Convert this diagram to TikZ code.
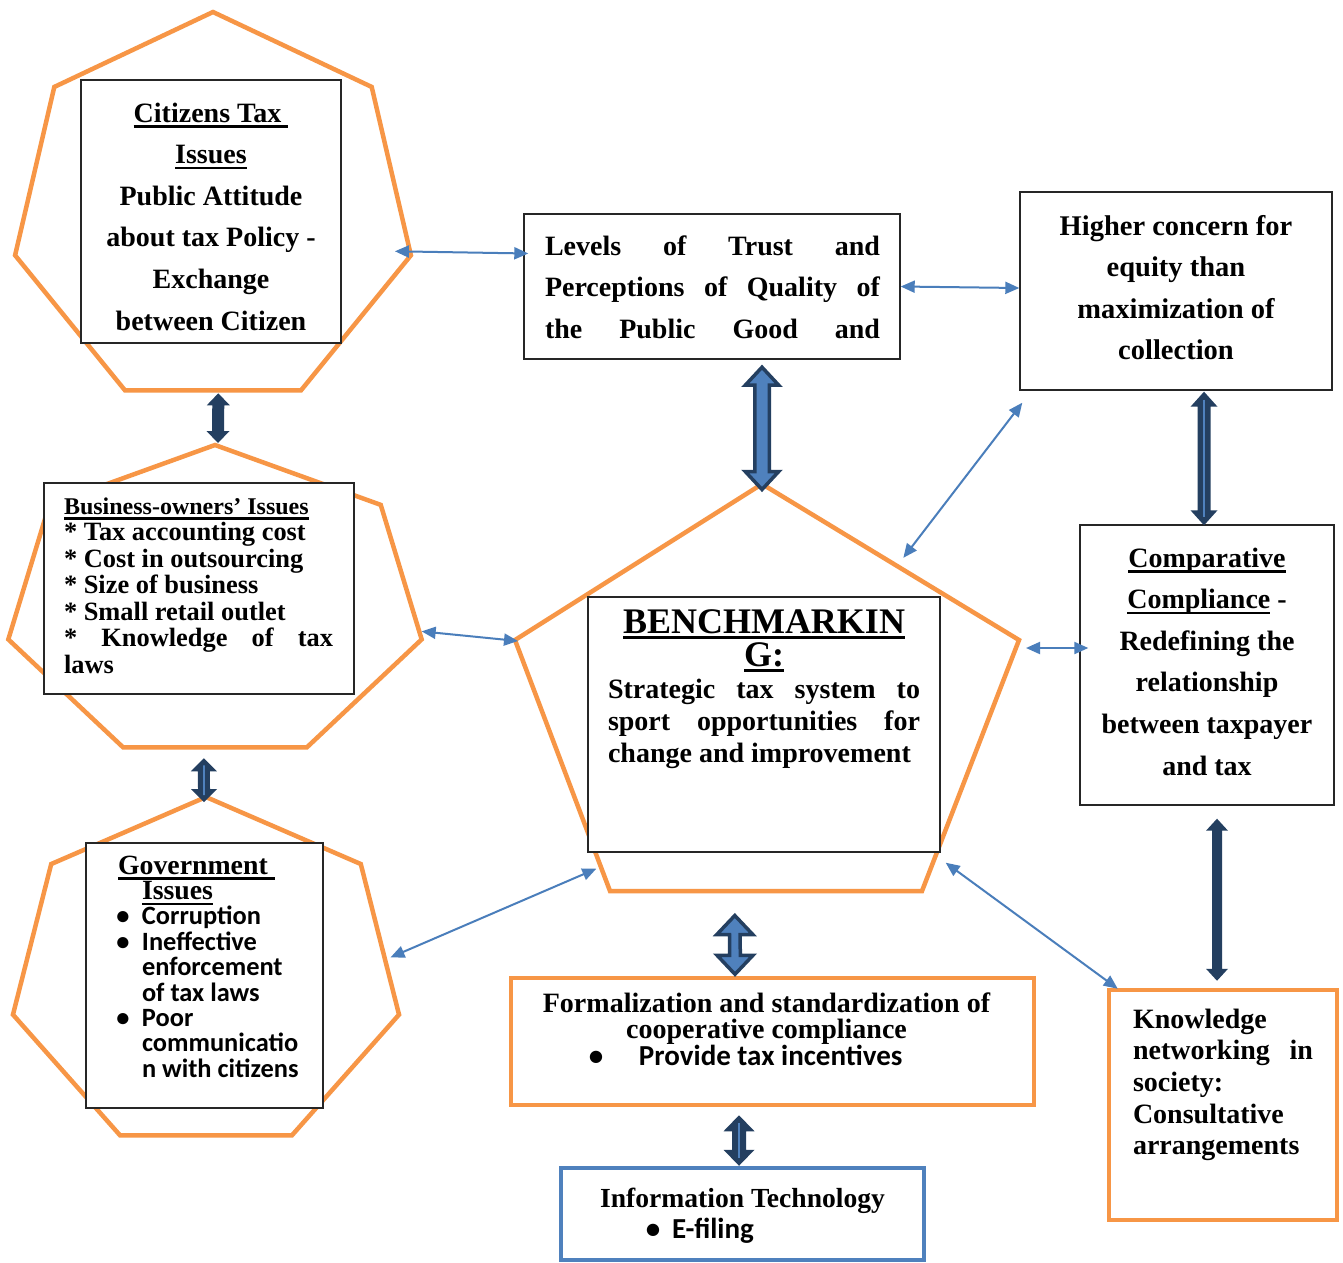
\documentclass[tikz,border=0pt]{standalone}
\usepackage{fontspec}
\setmainfont{Liberation Serif}
\newfontfamily\carl{Carlito}
\usetikzlibrary{calc,arrows.meta}
\definecolor{orng}{HTML}{F79646}
\definecolor{lblue}{HTML}{4F81BD}
\definecolor{cblue}{HTML}{4A7EBB}
\definecolor{navy}{HTML}{243F60}
\newsavebox\ulbox
\newcommand\uln[1]{\leavevmode\sbox\ulbox{#1}\rlap{\rule[-5.5pt]{\wd\ulbox}{2.2pt}}\usebox\ulbox}
\newcommand\fs[2]{\fontsize{#1pt}{#2pt}\selectfont}
\newcommand\bx[5]{\parbox[t][#2pt][t]{#1pt}{\lineskiplimit=-100pt #4\rule{0pt}{#3pt}#5}}
\newcommand\gb{\makebox[10pt][c]{•}\hspace*{14pt}}
\newcommand\cbf{\carl\fontsize{26.4pt}{25.4pt}\selectfont}
\newcommand\dblock[6]{\path[#1] (#2) -- ($(#2)+(#4,#6)$) -- ($(#2)+(#5,#6)$) -- ($(#3)+(#5,-#6)$) -- ($(#3)+(#4,-#6)$) -- (#3) -- ($(#3)+(-#4,-#6)$) -- ($(#3)+(-#5,-#6)$) -- ($(#2)+(-#5,#6)$) -- ($(#2)+(-#4,#6)$) -- cycle;}
\newcommand\dline[3]{\draw[lblue, line width=1.6pt] ($(#1)+(0,#3)$) -- ($(#2)+(0,-#3)$);}
\tikzset{
  hept/.style={draw=orng, line width=4.5pt, line join=miter},
  bbox/.style={draw=black!85, line width=1.4pt, fill=white, inner sep=0pt, font=\bfseries},
  obox/.style={bbox, draw=orng, line width=4.5pt},
  ibox/.style={bbox, draw=lblue, line width=4.5pt},
  conn/.style={draw=cblue, line width=2pt, {Triangle[length=14pt,width=12pt]}-{Triangle[length=14pt,width=12pt]}},
  blkA/.style={draw=navy, line width=3.5pt, fill=lblue, line join=miter},
  blkB/.style={fill=navy}
}
\begin{document}
\begin{tikzpicture}[x=1pt,y=-1pt]
\fill[white] (0,0) rectangle (1343,1262);
\useasboundingbox (0,0) rectangle (1343,1262);
% heptagons
\foreach \i in {0,...,6}{
  \coordinate (h1-\i) at ({213+203*cos(90+\i*360/7)},{211-199*sin(90+\i*360/7)});
  \coordinate (h2-\i) at ({215+212*cos(90+\i*360/7)},{604-159*sin(90+\i*360/7)});
  \coordinate (h3-\i) at ({206+198*cos(90+\i*360/7)},{975-178*sin(90+\i*360/7)});
}
\draw[hept] (h1-0)--(h1-1)--(h1-2)--(h1-3)--(h1-4)--(h1-5)--(h1-6)--cycle;
\draw[hept] (h2-0)--(h2-1)--(h2-2)--(h2-3)--(h2-4)--(h2-5)--(h2-6)--cycle;
\draw[hept] (h3-0)--(h3-1)--(h3-2)--(h3-3)--(h3-4)--(h3-5)--(h3-6)--cycle;
% pentagon
\coordinate (pT) at (762,484);
\coordinate (pR) at (1019,640);
\coordinate (pBR) at (922,891);
\coordinate (pBL) at (610,891);
\coordinate (pL) at (515,640);
\draw[hept] (pT)--(pR)--(pBR)--(pBL)--(pL)--cycle;
% boxes
\node[bbox] (c1) at (211,211.5) {\bx{260}{263}{42}{\fs{28}{41.6}\centering}{\uln{Citizens Tax\ }\\\uln{Issues}\\Public Attitude\\about tax Policy -\\Exchange\\between Citizen}};
\node[bbox] (lv) at (712,286.5) {\bx{376}{145}{41}{\fs{28}{41.5}\raggedright}{\hspace*{21pt}\makebox[335pt][s]{Levels of Trust and}\\\hspace*{21pt}\makebox[335pt][s]{Perceptions of Quality of}\\\hspace*{21pt}\makebox[335pt][s]{the Public Good and}}};
\node[bbox] (hc) at (1176,291) {\bx{312}{198}{43}{\fs{28.5}{41.5}\centering}{Higher concern for\\equity than\\maximization of\\collection}};
\node[bbox] (cc) at (1207,665) {\bx{254}{280}{42}{\fs{28}{41.6}\centering}{\uln{Comparative}\\\uln{Compliance} -\\Redefining the\\relationship\\between taxpayer\\and tax}};
\node[bbox] (bo) at (199,588.5) {\bx{310}{211}{31}{\fs{26.4}{26.5}\raggedright\leftskip=20pt }{{\fs{24}{26.5}\uln{Business-owners’ Issues}}\\{}* Tax accounting cost\\{}* Cost in outsourcing\\{}* Size of business\\{}* Small retail outlet\\\makebox[269pt][s]{* Knowledge of tax}\\laws}};
\node[bbox] (gv) at (204.5,975.5) {\bx{237}{265}{31}{\fs{27.8}{25.4}\raggedright\leftskip=32pt }{\uln{Government\ }\\\hspace*{24pt}\uln{Issues}\\{\cbf\gb Corruption}\\{\cbf\gb Ineffective}\\{\cbf\hspace*{24pt}enforcement}\\{\cbf\hspace*{24pt}of tax laws}\\{\cbf\gb Poor}\\{\cbf\hspace*{24pt}communicatio}\\{\cbf\hspace*{24pt}n with citizens}}};
\node[bbox] (bm) at (764,724.5) {\bx{352}{255}{36}{\fs{36}{33}\centering}{\uln{BENCHMARKIN}\\\uln{G:}\par\fs{28}{32}\raggedright\leftskip=20pt \makebox[312pt][s]{Strategic tax system to}\\\makebox[312pt][s]{sport opportunities for}\\change and improvement}};
\node[obox] (fm) at (772.5,1041.5) {\bx{523}{127}{34}{\fs{28}{26.5}\raggedright}{\makebox[511pt][c]{Formalization and standardization of}\\\makebox[511pt][c]{cooperative compliance}\\{\carl\fontsize{29pt}{26.5pt}\selectfont\hspace*{85pt}\makebox[0pt]{•}\hspace*{43pt}Provide tax incentives}}};
\node[ibox] (it) at (742.5,1214) {\bx{363}{92}{39}{\fs{27.6}{31}\raggedright}{\makebox[363pt][c]{Information Technology}\\{\carl\fontsize{29pt}{31pt}\selectfont\hspace*{92pt}\makebox[0pt]{•}\hspace*{19pt}E-filing}}};
\node[obox] (kn) at (1223,1105) {\bx{228}{230}{38}{\fs{28}{31.7}\raggedright\leftskip=24pt }{Knowledge\\\makebox[180pt][s]{networking in}\\society:\\Consultative\\arrangements}};
% thin connectors
\draw[conn] ($(h1-5)+(-16,-4)$) -- ($(lv.west)+(5,-33)$);
\draw[conn] (lv.east) -- ($(hc.west)+(0,-3)$);
\draw[conn] ($(pT)!0.55!(pR)+(0,-12)$) -- ($(hc.south west)+(3,12)$);
\draw[conn] ($(pR)+(7,8)$) -- ($(cc.west)+(9,-17)$);
\draw[conn] ($(bm.south east)+(5,10)$) -- ($(kn.north west)+(11,1)$);
\draw[conn] ($(bm.south west)+(9,16)$) -- ($(h3-6)!0.62!(h3-5)+(6,0)$);
\draw[conn] ($(h2-5)+(0,-8)$) -- ($(pL)+(3,1)$);
% block arrows
\coordinate (b1a) at ($(pT|-lv.south)+(0,7.5)$);
\coordinate (b1b) at ($(pT)+(0,5.5)$);
\dblock{blkA}{b1a}{b1b}{16.75}{7.25}{18}
\coordinate (b2a) at ($(pBL)!0.4!(pBR)+(0,24.5)$);
\coordinate (b2b) at ($(fm.north)+(-37.5,-1.5)$);
\dblock{blkA}{b2a}{b2b}{18}{5.3}{19}
\coordinate (b3a) at ($(fm.south)+(-33.5,8)$);
\coordinate (b3b) at ($(it.north)+(-3.5,0)$);
\dblock{blkB}{b3a}{b3b}{15.5}{7}{16}
\dline{b3a}{b3b}{8}
\coordinate (b4a) at ($(hc.south)+(28,1)$);
\coordinate (b4b) at ($(cc.north)+(-3,1)$);
\dblock{blkB}{b4a}{b4b}{13.5}{6.5}{15}
\dline{b4a}{b4b}{8}
\coordinate (b5a) at ($(cc.south)+(10,13)$);
\coordinate (b5b) at ($(kn.north)+(-6,-7)$);
\dblock{blkB}{b5a}{b5b}{11}{5}{12}
\coordinate (b6a) at ($(h1-3)!0.53!(h1-4)+(0,3)$);
\coordinate (b6b) at ($(h2-0)+(3,-2)$);
\dblock{blkB}{b6a}{b6b}{11.5}{6}{12}
\coordinate (b7a) at ($(h2-3)!0.44!(h2-4)+(0,11)$);
\coordinate (b7b) at ($(h3-0)+(-2,5)$);
\dblock{blkB}{b7a}{b7b}{13}{6}{13}
\dline{b7a}{b7b}{7}
\end{tikzpicture}
\end{document}
